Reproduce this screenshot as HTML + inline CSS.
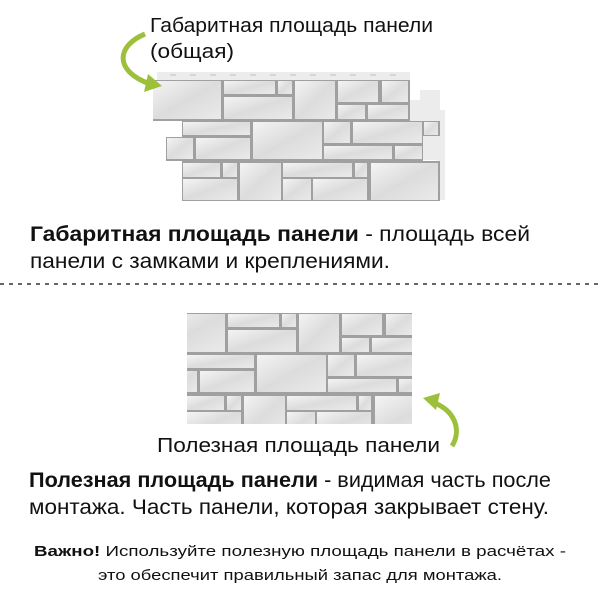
<!DOCTYPE html>
<html><head><meta charset="utf-8"><style>
html,body{margin:0;padding:0;background:#fff;}
svg{display:block;}
text{font-family:"Liberation Sans","DejaVu Sans",sans-serif;fill:#111;}
</style></head><body>
<svg width="600" height="600" viewBox="0 0 600 600" xmlns="http://www.w3.org/2000/svg">
<defs>
<linearGradient id="st" x1="0" y1="0" x2="1" y2="1">
<stop offset="0" stop-color="#f4f4f4"/><stop offset="0.5" stop-color="#dcdcdc"/><stop offset="1" stop-color="#eaeaea"/>
</linearGradient>
<clipPath id="c2"><rect x="183" y="80" width="225" height="111"/></clipPath>
<g id="stones" fill="url(#st)">
<rect x="153" y="81" width="68" height="38"/>
<rect x="224" y="81" width="51" height="13"/>
<rect x="278" y="81" width="14" height="13"/>
<rect x="224" y="97" width="68" height="22"/>
<rect x="295" y="81" width="40" height="38"/>
<rect x="338" y="81" width="40" height="21"/>
<rect x="382" y="81" width="26" height="21"/>
<rect x="338" y="105" width="27" height="14"/>
<rect x="368" y="105" width="40" height="14"/>
<rect x="183" y="122" width="67" height="13"/>
<rect x="167" y="138" width="26" height="21"/>
<rect x="196" y="138" width="54" height="21"/>
<rect x="253" y="122" width="69" height="37"/>
<rect x="324" y="122" width="26" height="21"/>
<rect x="353" y="122" width="69" height="21"/>
<rect x="424" y="122" width="14" height="13"/>
<rect x="324" y="146" width="68" height="13"/>
<rect x="395" y="146" width="27" height="13"/>
<rect x="183" y="163" width="37" height="14"/>
<rect x="223" y="163" width="14" height="14"/>
<rect x="183" y="179" width="54" height="21"/>
<rect x="240" y="163" width="41" height="37"/>
<rect x="283" y="163" width="69" height="14"/>
<rect x="355" y="163" width="12" height="14"/>
<rect x="283" y="179" width="28" height="21"/>
<rect x="313" y="179" width="54" height="21"/>
<rect x="371" y="163" width="67" height="37"/>
</g>
</defs>
<!-- panel 1 -->
<path d="M157 72 H410 V100 H420 V90 H440 V110 H445 V200 H438 V160 H420 V121 H410 V80 H157 Z" fill="#ececec"/>
<g fill="#d6d6d6"><rect x="170" y="74" width="6" height="2"/><rect x="190" y="74" width="6" height="2"/><rect x="210" y="74" width="6" height="2"/><rect x="230" y="74" width="6" height="2"/><rect x="250" y="74" width="6" height="2"/><rect x="270" y="74" width="6" height="2"/><rect x="290" y="74" width="6" height="2"/><rect x="310" y="74" width="6" height="2"/><rect x="330" y="74" width="6" height="2"/><rect x="350" y="74" width="6" height="2"/><rect x="370" y="74" width="6" height="2"/><rect x="390" y="74" width="6" height="2"/></g>
<path d="M153 80 H410 V121 H440 V136 H423 V161 H440 V201 H182 V161 H166 V137 H182 V121 H153 Z" fill="#a0a0a0"/>
<use href="#stones"/>
<!-- panel 2 -->
<rect x="187" y="313" width="225" height="111" fill="#a0a0a0"/>
<g transform="translate(4,233)"><g clip-path="url(#c2)"><rect x="183" y="80" width="225" height="111" fill="#a0a0a0"/><use href="#stones"/></g></g>
<!-- arrows -->
<path d="M145 34 C118 45 112 70 150 84" fill="none" stroke="#9cc03a" stroke-width="5"/>
<path d="M148 74 L162 86 L144 92 Z" fill="#9cc03a"/>
<path d="M452 446 C462 430 455 410 432 402" fill="none" stroke="#9cc03a" stroke-width="5"/>
<path d="M423 398 L440 393 L436 410 Z" fill="#9cc03a"/>
<!-- texts -->
<text x="150" y="32" font-size="20" textLength="283" lengthAdjust="spacingAndGlyphs">Габаритная площадь панели</text>
<text x="150" y="58" font-size="20" textLength="84" lengthAdjust="spacingAndGlyphs">(общая)</text>
<text x="30" y="241" font-size="21" textLength="500" lengthAdjust="spacingAndGlyphs"><tspan font-weight="bold">Габаритная площадь панели</tspan> - площадь всей</text>
<text x="30" y="268" font-size="21" textLength="360" lengthAdjust="spacingAndGlyphs">панели с замками и креплениями.</text>
<line x1="0" y1="284" x2="600" y2="284" stroke="#333" stroke-width="1.5" stroke-dasharray="4,5"/>
<text x="157" y="452" font-size="20" textLength="283" lengthAdjust="spacingAndGlyphs">Полезная площадь панели</text>
<text x="29" y="487" font-size="21" textLength="522" lengthAdjust="spacingAndGlyphs"><tspan font-weight="bold">Полезная площадь панели</tspan> - видимая часть после</text>
<text x="29" y="514" font-size="21" textLength="520" lengthAdjust="spacingAndGlyphs">монтажа. Часть панели, которая закрывает стену.</text>
<text x="34" y="556" font-size="15" textLength="532" lengthAdjust="spacingAndGlyphs"><tspan font-weight="bold">Важно!</tspan>  Используйте полезную площадь панели в расчётах -</text>
<text x="300" y="580" font-size="15" text-anchor="middle" textLength="404" lengthAdjust="spacingAndGlyphs">это обеспечит правильный запас для монтажа.</text>
</svg>
</body></html>
